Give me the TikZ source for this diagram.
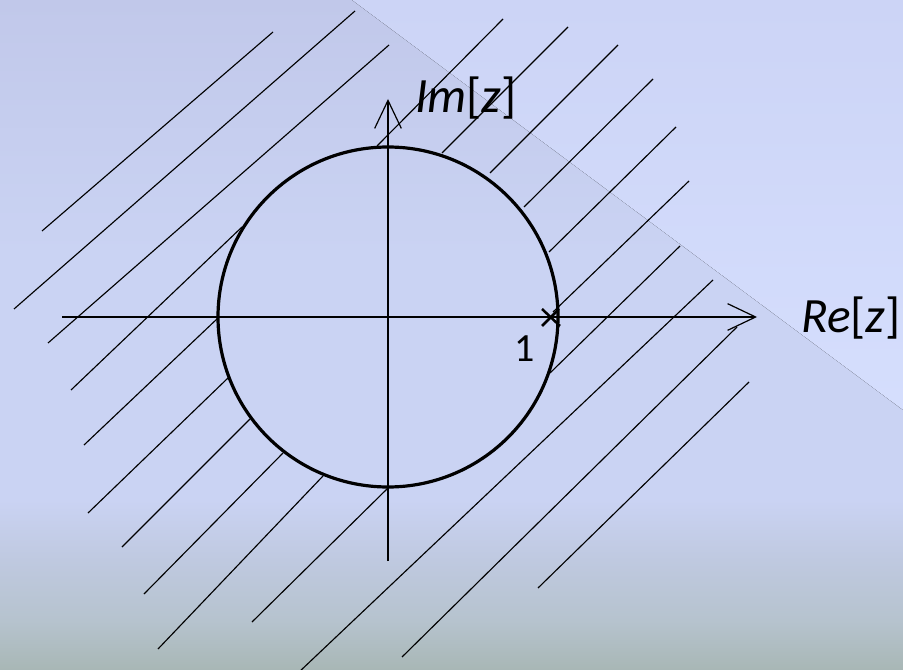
\documentclass[tikz,border=0pt]{standalone}
\usepackage{fontspec}
\setmainfont{Carlito}
\usetikzlibrary{arrows.meta,calc}
\definecolor{bgtop}{HTML}{C1C8EA}
\definecolor{bgmid}{HTML}{CAD3F3}
\definecolor{bgbA}{HTML}{BFC9E0}
\definecolor{bgbB}{HTML}{B6C3CE}
\definecolor{bgbot}{HTML}{A8B7B5}
\definecolor{tritop}{HTML}{CCD4F6}
\definecolor{tribot}{HTML}{D5DEFD}
\pgfdeclareverticalshading{bgshade}{100bp}{color(0bp)=(bgbot); color(25bp)=(bgbot); color(28.7bp)=(bgbB); color(33.2bp)=(bgbA); color(37.7bp)=(bgmid); color(56bp)=(bgmid); color(75bp)=(bgtop); color(100bp)=(bgtop)}
\tikzset{
  hatch/.style={line width=0.85pt, black},
  axisline/.style={line width=0.9pt, black, -{Straight Barb[length=21pt,width=20pt,line width=0.9pt]}},
  unitcircle/.style={line width=2.4pt, black},
  crossmark/.style={line width=1.9pt, black},
  biglabel/.style={inner sep=0pt, font=\fontsize{37pt}{44pt}\selectfont},
  numlabel/.style={inner sep=0pt, font=\fontsize{30pt}{36pt}\selectfont},
}
\begin{document}
\begin{tikzpicture}[x=0.75pt,y=-0.75pt]
\useasboundingbox (0,0) rectangle (903,670);
\clip (0,0) rectangle (903,670);
% background
\fill[shading=bgshade] (0,0) rectangle (903,670);
\fill[top color=tritop, bottom color=tribot] (352,0) -- (903,0) -- (903,410) -- cycle;
% hatch lines, left/lower side
\draw[hatch] (42,231) -- (273,32);
\draw[hatch] (14,309) -- (355,11);
\draw[hatch] (48,343) -- (389,45);
\draw[hatch] (71,390) -- (242,227);
\draw[hatch] (84,445) -- (218,318);
\draw[hatch] (88,513) -- (228,378);
\draw[hatch] (122,547) -- (250,419);
\draw[hatch] (144,594) -- (283,453);
\draw[hatch] (158,649) -- (323,476);
\draw[hatch] (252,622) -- (388,488);
\draw[hatch] (298,673) -- (713,280);
\draw[hatch] (402,657) -- (737,327);
\draw[hatch] (538,588) -- (749,382);
% hatch lines, upper/right side
\draw[hatch] (377,146) -- (503,19);
\draw[hatch] (442,153) -- (568,27);
\draw[hatch] (490,173) -- (618,45);
\draw[hatch] (524,207) -- (653,79);
\draw[hatch] (549,252) -- (676,127);
\draw[hatch] (553,312) -- (689,181);
\draw[hatch] (550,373) -- (680,246);
% axes
\coordinate (O) at (388,317);
\coordinate (xl) at (62,317);
\coordinate (xr) at (757,317);
\coordinate (yb) at (388,561);
\coordinate (yt) at (388,99);
\draw[axisline] (xl) -- (xr);
\draw[axisline] (yb) -- (yt);
% unit circle
\draw[unitcircle] (O) circle[radius=170];
% cross at z = 1
\coordinate (one) at (551,317);
\draw[crossmark] ($(one)+(-9,-8)$) -- ($(one)+(9,9)$);
\draw[crossmark] ($(one)+(-9,9)$) -- ($(one)+(8,-8)$);
% labels
\node[biglabel, anchor=base west] (re) at (801,332) {\textit{Re}[\textit{z}]};
\node[biglabel, anchor=base west] (im) at (415,113) {\textit{Im}[\textit{z}]};
\node[numlabel, anchor=base] (lab1) at (525,361) {1};
\end{tikzpicture}
\end{document}
